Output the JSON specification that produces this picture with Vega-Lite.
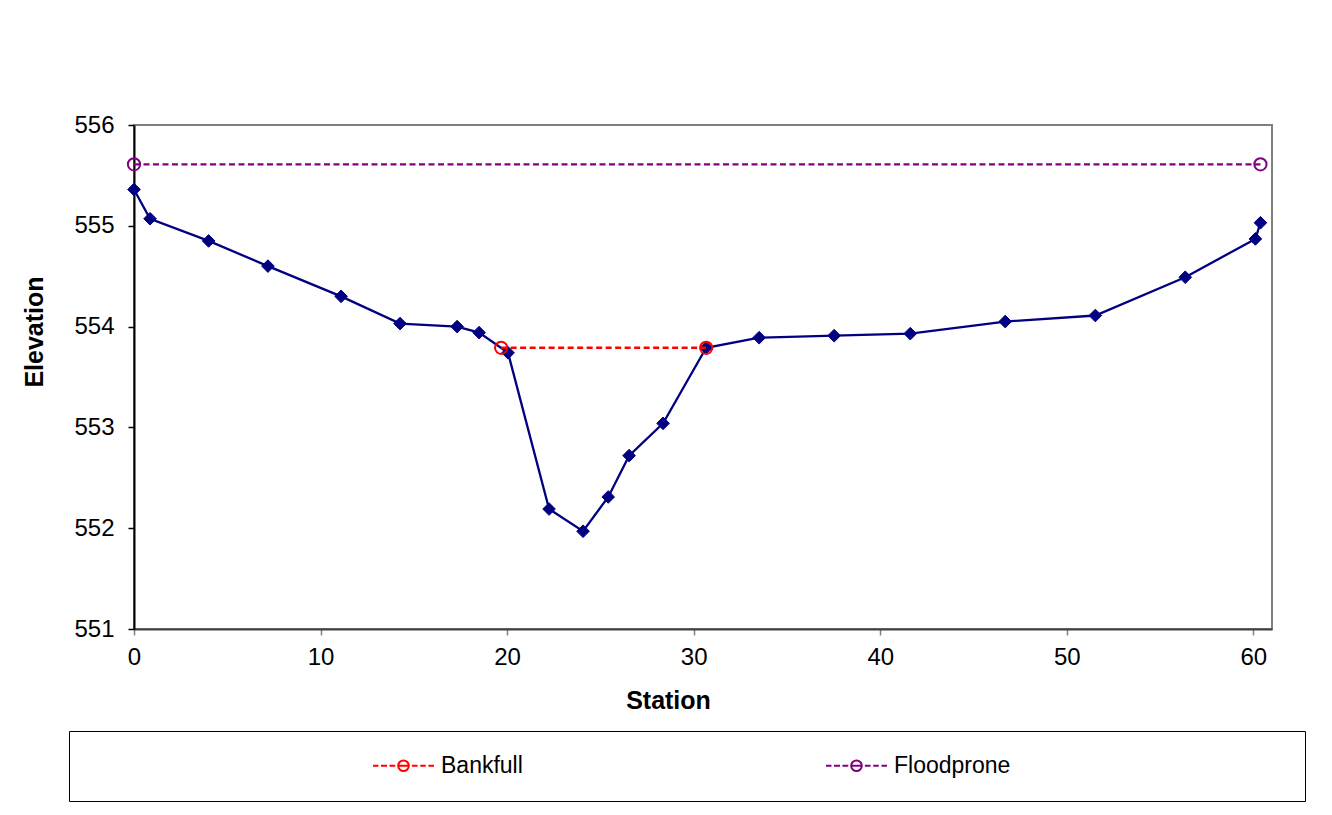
{
  "$schema": "https://vega.github.io/schema/vega-lite/v6.json",
  "width": 1138,
  "height": 504,
  "autosize": {"type": "none"},
  "padding": {"left": 134, "top": 125, "right": 60, "bottom": 186},
  "background": "white",
  "config": {
    "font": "Liberation Sans, Arial, sans-serif",
    "view": {"stroke": "#808080", "strokeWidth": 2},
    "axis": {
      "grid": false,
      "labelFont": "Liberation Sans, Arial, sans-serif",
      "labelFontSize": 24,
      "labelColor": "black",
      "labelFlush": false,
      "labelOverlap": false,
      "titleFont": "Liberation Sans, Arial, sans-serif",
      "titleFontSize": 25,
      "titleFontWeight": "bold",
      "titleColor": "black",
      "tickSize": 6
    }
  },
  "data": {
    "values": [
      {"series": "Ground", "station": 0, "elevation": 555.36},
      {"series": "Ground", "station": 0.86, "elevation": 555.07},
      {"series": "Ground", "station": 4.0, "elevation": 554.85},
      {"series": "Ground", "station": 7.18, "elevation": 554.6},
      {"series": "Ground", "station": 11.1, "elevation": 554.3},
      {"series": "Ground", "station": 14.26, "elevation": 554.03},
      {"series": "Ground", "station": 17.32, "elevation": 554.0},
      {"series": "Ground", "station": 18.5, "elevation": 553.94},
      {"series": "Ground", "station": 20.05, "elevation": 553.74},
      {"series": "Ground", "station": 22.25, "elevation": 552.19},
      {"series": "Ground", "station": 24.07, "elevation": 551.97},
      {"series": "Ground", "station": 25.42, "elevation": 552.31},
      {"series": "Ground", "station": 26.54, "elevation": 552.72},
      {"series": "Ground", "station": 28.36, "elevation": 553.04},
      {"series": "Ground", "station": 30.67, "elevation": 553.79},
      {"series": "Ground", "station": 33.51, "elevation": 553.89},
      {"series": "Ground", "station": 37.53, "elevation": 553.91},
      {"series": "Ground", "station": 41.61, "elevation": 553.93},
      {"series": "Ground", "station": 46.7, "elevation": 554.05},
      {"series": "Ground", "station": 51.53, "elevation": 554.11},
      {"series": "Ground", "station": 56.35, "elevation": 554.49},
      {"series": "Ground", "station": 60.11, "elevation": 554.87},
      {"series": "Ground", "station": 60.38, "elevation": 555.03},
      {"series": "Bankfull", "station": 19.68, "elevation": 553.79},
      {"series": "Bankfull", "station": 30.67, "elevation": 553.79},
      {"series": "Floodprone", "station": 0, "elevation": 555.61},
      {"series": "Floodprone", "station": 60.38, "elevation": 555.61}
    ]
  },
  "encoding": {
    "x": {
      "field": "station",
      "type": "quantitative",
      "scale": {"domain": [0, 61], "nice": false, "zero": false},
      "axis": {
        "values": [0, 10, 20, 30, 40, 50, 60],
        "format": "d",
        "title": "Station",
        "titleX": 534,
        "titleY": 71,
        "titleBaseline": "middle",
        "titleAlign": "center",
        "labelPadding": 10,
        "domainColor": "#404040",
        "domainWidth": 2,
        "tickColor": "#808080",
        "tickWidth": 1.5
      }
    },
    "y": {
      "field": "elevation",
      "type": "quantitative",
      "scale": {"domain": [551, 556], "nice": false, "zero": false},
      "axis": {
        "values": [551, 552, 553, 554, 555, 556],
        "format": "d",
        "title": "Elevation",
        "titleAngle": 270,
        "titleX": -100,
        "titleY": 206.5,
        "titleBaseline": "middle",
        "titleAlign": "center",
        "labelPadding": 14,
        "domainColor": "black",
        "domainWidth": 2,
        "tickColor": "black",
        "tickWidth": 1.5
      }
    }
  },
  "layer": [
    {
      "transform": [{"filter": "datum.series === 'Ground'"}],
      "mark": {"type": "line", "color": "#000080", "strokeWidth": 2.3}
    },
    {
      "transform": [{"filter": "datum.series === 'Ground'"}],
      "mark": {"type": "point", "shape": "diamond", "filled": true, "color": "#000080", "stroke": "#000080", "strokeWidth": 1, "size": 160, "opacity": 1}
    },
    {
      "transform": [{"filter": "datum.series !== 'Ground'"}],
      "mark": {"type": "line", "strokeDash": [6, 3.5], "strokeWidth": 2.3},
      "encoding": {
        "color": {
          "field": "series",
          "type": "nominal",
          "scale": {"domain": ["Bankfull", "Floodprone"], "range": ["#FF0000", "#800080"]}
        }
      }
    },
    {
      "transform": [{"filter": "datum.series !== 'Ground'"}],
      "mark": {"type": "point", "filled": false, "size": 150, "strokeWidth": 2, "opacity": 1},
      "encoding": {
        "color": {
          "field": "series",
          "type": "nominal",
          "scale": {"domain": ["Bankfull", "Floodprone"], "range": ["#FF0000", "#800080"]},
          "legend": {
            "orient": "none",
            "legendX": -65,
            "legendY": 606,
            "direction": "horizontal",
            "padding": 23,
            "strokeColor": "black",
            "clipHeight": 23,
            "symbolSize": 3721,
            "symbolOffset": 280,
            "symbolType": "M-1,0H-0.82M-0.74,0H-0.54M-0.46,0H-0.27M-0.174,0H0.174M0.174,0A0.174,0.174,0,1,1,-0.174,0A0.174,0.174,0,1,1,0.174,0M0.275,0H0.46M0.55,0H0.73M0.82,0H1",
            "symbolStrokeWidth": 2,
            "symbolFillColor": "transparent",
            "symbolDash": [1000, 0],
            "labelFont": "Liberation Sans, Arial, sans-serif",
            "labelFontSize": 23,
            "labelColor": "black",
            "labelOffset": 6,
            "columnPadding": 22,
            "title": " ",
            "titleOrient": "right",
            "titlePadding": 272,
            "titleFontSize": 1
          }
        }
      }
    }
  ]
}
